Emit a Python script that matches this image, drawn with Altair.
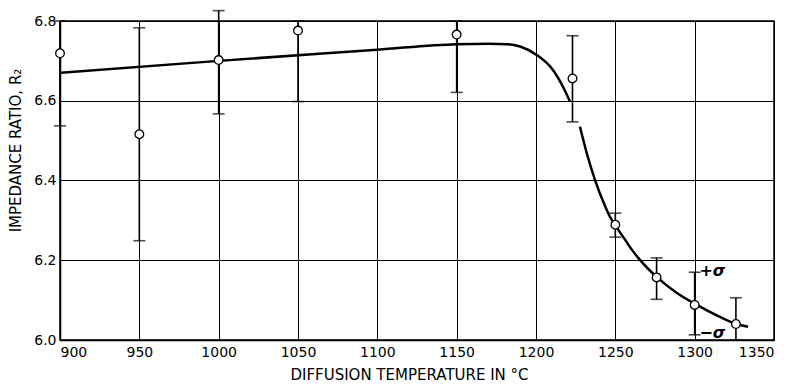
import altair as alt
import pandas as pd

# Measured points with +/- sigma bars
temps = [900, 950, 1000, 1050, 1150, 1223, 1250, 1276, 1300, 1326]
ratio = [6.719, 6.516, 6.702, 6.776, 6.766, 6.656, 6.289, 6.157, 6.088, 6.040]
lo = [6.537, 6.249, 6.567, 6.598, 6.621, 6.547, 6.258, 6.102, 6.013, 6.000]
hi = [6.800, 6.783, 6.826, 6.800, 6.800, 6.763, 6.318, 6.206, 6.170, 6.106]

# Fitted curve (two drawn segments)
curve_t = [900, 1000, 1100, 1150, 1170, 1181.7, 1190, 1200.4, 1210.7, 1217, 1221.4,
           1227.7, 1232.1, 1237.2, 1243.5, 1246.6, 1249.9, 1256.2, 1260.5, 1265.5, 1276.9,
           1288.8, 1301.4, 1315.9, 1326.6, 1333.6]
curve_r = [6.670, 6.700, 6.728, 6.742, 6.743, 6.742, 6.736, 6.715, 6.677, 6.635, 6.598,
           6.535, 6.467, 6.401, 6.336, 6.309, 6.288, 6.251, 6.226, 6.201, 6.155,
           6.118, 6.088, 6.058, 6.040, 6.033]
curve_seg = [1] * 11 + [2] * 15

# Sigma labels
sig_text = ["+σ", "−σ"]
sig_t = [1303, 1303]
sig_r = [6.172, 6.018]

x_ticks = [900, 950, 1000, 1050, 1100, 1150, 1200, 1250, 1300, 1350]
y_ticks = [6.0, 6.2, 6.4, 6.6, 6.8]

pts = pd.DataFrame({"t": temps, "r": ratio, "lo": lo, "hi": hi})
curve = pd.DataFrame({"t": curve_t, "r": curve_r, "seg": curve_seg})
sig = pd.DataFrame({"t": sig_t, "r": sig_r, "txt": sig_text})

FONT = "DejaVu Sans"

xs = alt.Scale(domain=[900, 1350], nice=False, zero=False)
ys = alt.Scale(domain=[6.0, 6.8], nice=False, zero=False)

x_axis = alt.Axis(values=x_ticks, format="d", title="DIFFUSION TEMPERATURE IN °C",
                  grid=True, gridColor="black", gridWidth=1, gridOpacity=1,
                  domainColor="black", domainWidth=1.5, ticks=False, labelPadding=5,
                  labelFont=FONT, labelFontSize=14, labelColor="black",
                  titleFont=FONT, titleFontSize=15, titleFontWeight="normal", titleColor="black",
                  titleX=349, titleY=34, titleAlign="center", titleBaseline="middle")
y_axis = alt.Axis(values=y_ticks, format=".1f", title="IMPEDANCE RATIO, R₂",
                  grid=True, gridColor="black", gridWidth=1, gridOpacity=1,
                  domainColor="black", domainWidth=1.5, ticks=False, labelPadding=4,
                  labelFont=FONT, labelFontSize=14, labelColor="black",
                  titleFont=FONT, titleFontSize=15, titleFontWeight="normal", titleColor="black",
                  titleX=-45, titleY=129, titleAngle=-90, titleAlign="center", titleBaseline="middle")

base_x = alt.X("t:Q", scale=xs, axis=x_axis)
base_y = alt.Y("r:Q", scale=ys, axis=y_axis)

line = alt.Chart(curve).mark_line(color="black", strokeWidth=2.5, interpolate="monotone").encode(
    x=base_x, y=base_y, detail="seg:N")

bars = alt.Chart(pts).mark_rule(color="black", strokeWidth=1.6).encode(
    x=alt.X("t:Q", scale=xs), y=alt.Y("lo:Q", scale=ys), y2="hi:Q")

cap_lo = alt.Chart(pts).mark_tick(orient="horizontal", size=12, thickness=1.6, color="black").encode(
    x=alt.X("t:Q", scale=xs), y=alt.Y("lo:Q", scale=ys))
cap_hi = alt.Chart(pts).mark_tick(orient="horizontal", size=12, thickness=1.6, color="black").encode(
    x=alt.X("t:Q", scale=xs), y=alt.Y("hi:Q", scale=ys))

dots = alt.Chart(pts).mark_point(shape="circle", filled=True, fill="white", stroke="black",
                                 strokeWidth=1.3, size=75, opacity=1).encode(
    x=alt.X("t:Q", scale=xs), y=alt.Y("r:Q", scale=ys))

labels = alt.Chart(sig).mark_text(align="left", baseline="middle", font=FONT, fontSize=16,
                                  fontWeight="bold", fontStyle="italic", color="black").encode(
    x=alt.X("t:Q", scale=xs), y=alt.Y("r:Q", scale=ys), text="txt:N")

chart = alt.layer(line, bars, cap_lo, cap_hi, dots, labels).properties(
    width=714, height=319,
    autosize=alt.AutoSizeParams(type="none"),
    padding={"left": 52, "top": 13, "right": 10, "bottom": 44},
    background="white",
).configure_view(stroke="black", strokeWidth=1.5)

chart.save("out.html", embed_options={"renderer": "svg", "actions": False})
